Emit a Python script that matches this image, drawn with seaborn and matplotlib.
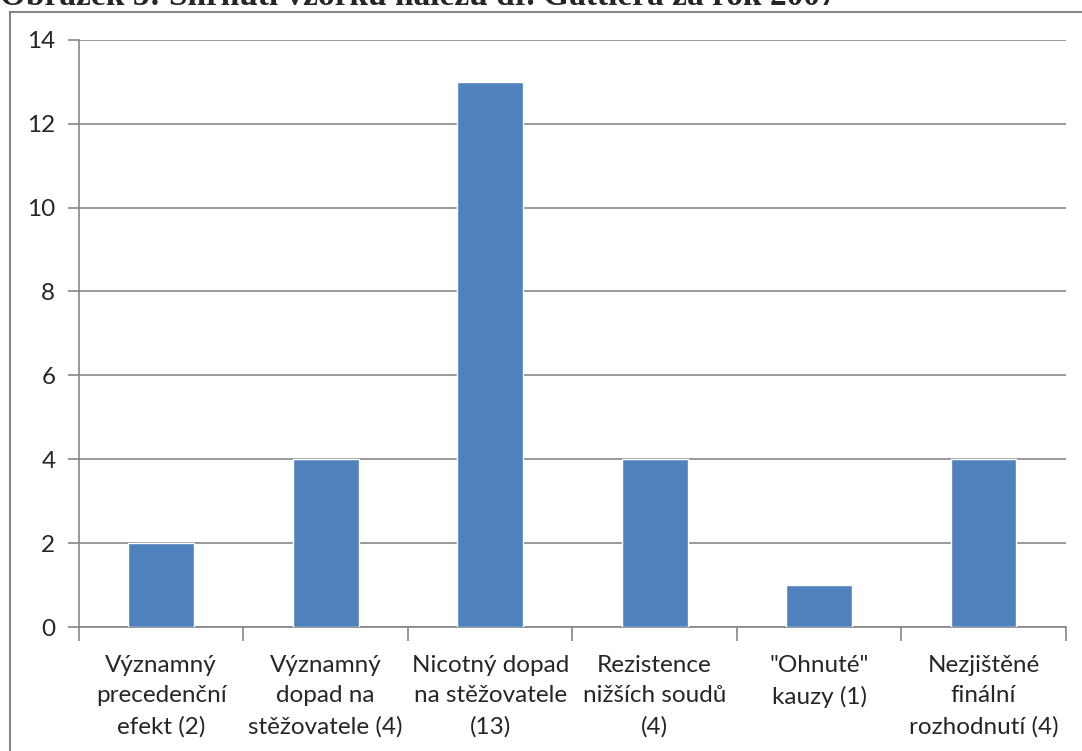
import numpy as np
import matplotlib.pyplot as plt
import pandas as pd
import seaborn as sns
from matplotlib.patches import Rectangle

categories = ['Významný\nprecedenční\nefekt (2)',
              'Významný\ndopad na\nstěžovatele (4)',
              'Nicotný dopad\nna stěžovatele\n(13)',
              'Rezistence\nnižších soudů\n(4)',
              '"Ohnuté"\nkauzy (1)',
              'Nezjištěné\nfinální\nrozhodnutí (4)']
counts = [2, 4, 13, 4, 1, 4]
title = 'Obrázek 5: Shrnutí vzorku nálezů dr. Gattiera za rok 2007'

df = pd.DataFrame({'kategorie': categories, 'pocet': counts})

sns.set_style('white')
plt.rcParams['font.family'] = ['Lato', 'DejaVu Sans']

fig = plt.figure(figsize=(10.82, 7.51), dpi=100)
ax = fig.add_axes([0.073, 0.165, 0.912, 0.782])

grey = '#868686'
sns.barplot(data=df, x='kategorie', y='pocet', color='#4F81BD', saturation=1,
            width=0.4, ax=ax, zorder=3)

ax.set_ylim(0, 14)
ax.set_yticks(range(0, 15, 2))
ax.set_xlim(-0.5, len(categories) - 0.5)
ax.yaxis.grid(True, color=grey, linewidth=1.2, zorder=0)
ax.set_xlabel('')
ax.set_ylabel('')

for s in ['top', 'right']:
    ax.spines[s].set_visible(False)
for s in ['left', 'bottom']:
    ax.spines[s].set_color(grey)
    ax.spines[s].set_linewidth(1.2)

ax.tick_params(axis='y', length=8, color=grey, width=1.2, labelsize=17.5, pad=9, left=True)
ax.tick_params(axis='x', length=0, labelsize=17.5, pad=20)
# separators between categories
ax.set_xticks(np.arange(-0.5, len(categories)), minor=True)
ax.tick_params(axis='x', which='minor', length=10, color=grey, width=1.2, bottom=True)
for lab in ax.get_xticklabels():
    lab.set_linespacing(1.55)

# chart frame
fig.patches.append(Rectangle((10 / 1082, -0.1), 1.2, 1 - 12 / 751 + 0.1,
                             transform=fig.transFigure, fill=False,
                             edgecolor=grey, linewidth=1.5))
fig.text(0.0, 1 - 5 / 751, title, family='Liberation Serif', fontweight='bold',
         fontsize=24, va='baseline', ha='left')

fig.savefig('out.png', dpi=100)
